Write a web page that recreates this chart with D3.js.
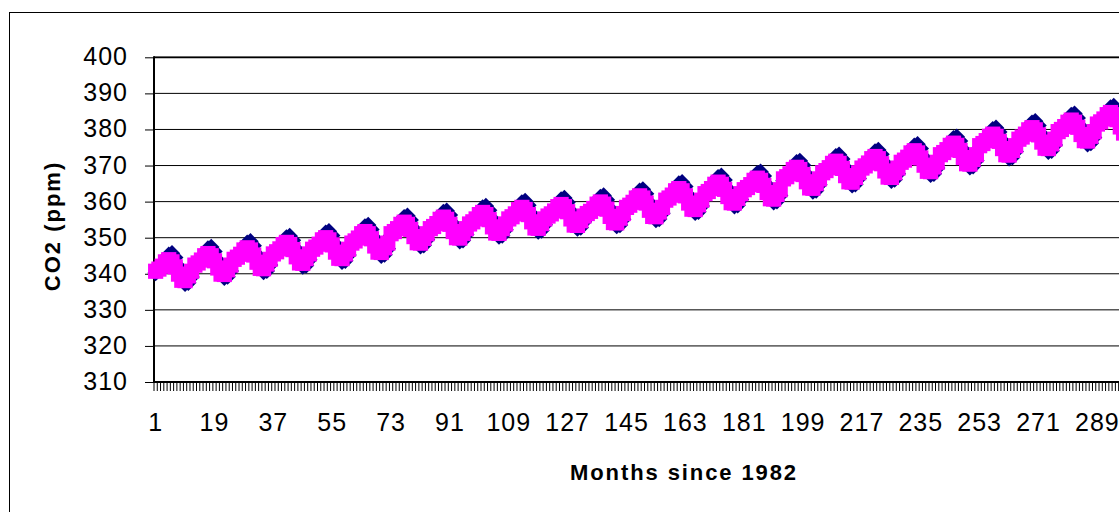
<!DOCTYPE html>
<html>
<head>
<meta charset="utf-8">
<script src="https://cdn.jsdelivr.net/npm/d3@7"></script>
<style>
  html, body { margin: 0; padding: 0; background: #fff; }
  svg { display: block; }
  text { font-family: "Liberation Sans", Arial, sans-serif; fill: #000; }
</style>
</head>
<body>
<svg id="chart" width="1119" height="512"></svg>
<script>
// y axis ticks (ppm)
const yTicks = [310, 320, 330, 340, 350, 360, 370, 380, 390, 400];
// category labels shown under the axis
const xLabelMonths = [1, 19, 37, 55, 73, 91, 109, 127, 145, 163, 181, 199, 217, 235, 253, 271, 289];
// months since 1982 (categories)
const months = d3.range(1, 301);

// dark blue series, one row per year (Jan..Dec)
const navySeries = [
  340.2, 341.0, 342.1, 343.7, 345.3, 345.7, 344.5, 342.0, 338.9, 337.2, 337.5, 339.1,
  341.9, 342.7, 343.8, 345.4, 347.0, 347.4, 346.2, 343.7, 340.6, 338.9, 339.2, 340.8,
  343.5, 344.3, 345.4, 347.0, 348.6, 349.0, 347.8, 345.3, 342.2, 340.5, 340.8, 342.4,
  345.0, 345.8, 346.9, 348.5, 350.1, 350.5, 349.3, 346.8, 343.7, 342.0, 342.3, 343.9,
  346.3, 347.1, 348.2, 349.8, 351.4, 351.8, 350.6, 348.1, 345.0, 343.3, 343.6, 345.2,
  348.0, 348.8, 349.9, 351.5, 353.1, 353.5, 352.3, 349.8, 346.7, 345.0, 345.3, 346.9,
  350.6, 351.4, 352.5, 354.1, 355.7, 356.1, 354.9, 352.4, 349.3, 347.6, 347.9, 349.5,
  352.0, 352.8, 353.9, 355.5, 357.1, 357.5, 356.3, 353.8, 350.7, 349.0, 349.3, 350.9,
  353.3, 354.1, 355.2, 356.8, 358.4, 358.8, 357.6, 355.1, 352.0, 350.3, 350.6, 352.2,
  354.7, 355.5, 356.6, 358.2, 359.8, 360.2, 359.0, 356.5, 353.4, 351.7, 352.0, 353.6,
  355.5, 356.3, 357.4, 359.0, 360.6, 361.0, 359.8, 357.3, 354.2, 352.5, 352.8, 354.4,
  356.2, 357.0, 358.1, 359.7, 361.3, 361.7, 360.5, 358.0, 354.9, 353.2, 353.5, 355.1,
  357.9, 358.7, 359.8, 361.4, 363.0, 363.4, 362.2, 359.7, 356.6, 354.9, 355.2, 356.8,
  359.9, 360.7, 361.8, 363.4, 365.0, 365.4, 364.2, 361.7, 358.6, 356.9, 357.2, 358.8,
  361.7, 362.5, 363.6, 365.2, 366.8, 367.2, 366.0, 363.5, 360.4, 358.7, 359.0, 360.6,
  362.8, 363.6, 364.7, 366.3, 367.9, 368.3, 367.1, 364.6, 361.5, 359.8, 360.1, 361.7,
  365.8, 366.6, 367.7, 369.3, 370.9, 371.3, 370.1, 367.6, 364.5, 362.8, 363.1, 364.7,
  367.5, 368.3, 369.4, 371.0, 372.6, 373.0, 371.8, 369.3, 366.2, 364.5, 364.8, 366.4,
  368.8, 369.6, 370.7, 372.3, 373.9, 374.3, 373.1, 370.6, 367.5, 365.8, 366.1, 367.7,
  370.4, 371.2, 372.3, 373.9, 375.5, 375.9, 374.7, 372.2, 369.1, 367.4, 367.7, 369.3,
  372.5, 373.3, 374.4, 376.0, 377.6, 378.0, 376.8, 374.3, 371.2, 369.5, 369.8, 371.4,
  375.0, 375.8, 376.9, 378.5, 380.1, 380.5, 379.3, 376.8, 373.7, 372.0, 372.3, 373.9,
  376.8, 377.6, 378.7, 380.3, 381.9, 382.3, 381.1, 378.6, 375.5, 373.8, 374.1, 375.7,
  378.9, 379.7, 380.8, 382.4, 384.0, 384.4, 383.2, 380.7, 377.6, 375.9, 376.2, 377.8,
  381.0, 381.8, 382.9, 384.5, 386.1, 386.5, 385.3, 382.8, 379.7, 378.0, 378.3, 379.9
];

// magenta series, one row per year (Jan..Dec)
const magentaSeries = [
  340.7, 341.3, 342.1, 343.3, 343.9, 343.3, 341.9, 339.9, 338.2, 338.1, 339.4, 340.7,
  342.4, 343.0, 343.8, 345.0, 345.6, 345.0, 343.6, 341.6, 339.9, 339.8, 341.1, 342.4,
  344.0, 344.6, 345.4, 346.6, 347.2, 346.6, 345.2, 343.2, 341.5, 341.4, 342.7, 344.0,
  345.5, 346.1, 346.9, 348.1, 348.7, 348.1, 346.7, 344.7, 343.0, 342.9, 344.2, 345.5,
  346.8, 347.4, 348.2, 349.4, 350.0, 349.4, 348.0, 346.0, 344.3, 344.2, 345.5, 346.8,
  348.5, 349.1, 349.9, 351.1, 351.7, 351.1, 349.7, 347.7, 346.0, 345.9, 347.2, 348.5,
  351.1, 351.7, 352.5, 353.7, 354.3, 353.7, 352.3, 350.3, 348.6, 348.5, 349.8, 351.1,
  352.5, 353.1, 353.9, 355.1, 355.7, 355.1, 353.7, 351.7, 350.0, 349.9, 351.2, 352.5,
  353.8, 354.4, 355.2, 356.4, 357.0, 356.4, 355.0, 353.0, 351.3, 351.2, 352.5, 353.8,
  355.2, 355.8, 356.6, 357.8, 358.4, 357.8, 356.4, 354.4, 352.7, 352.6, 353.9, 355.2,
  356.0, 356.6, 357.4, 358.6, 359.2, 358.6, 357.2, 355.2, 353.5, 353.4, 354.7, 356.0,
  356.7, 357.3, 358.1, 359.3, 359.9, 359.3, 357.9, 355.9, 354.2, 354.1, 355.4, 356.7,
  358.4, 359.0, 359.8, 361.0, 361.6, 361.0, 359.6, 357.6, 355.9, 355.8, 357.1, 358.4,
  360.4, 361.0, 361.8, 363.0, 363.6, 363.0, 361.6, 359.6, 357.9, 357.8, 359.1, 360.4,
  362.2, 362.8, 363.6, 364.8, 365.4, 364.8, 363.4, 361.4, 359.7, 359.6, 360.9, 362.2,
  363.3, 363.9, 364.7, 365.9, 366.5, 365.9, 364.5, 362.5, 360.8, 360.7, 362.0, 363.3,
  366.3, 366.9, 367.7, 368.9, 369.5, 368.9, 367.5, 365.5, 363.8, 363.7, 365.0, 366.3,
  368.0, 368.6, 369.4, 370.6, 371.2, 370.6, 369.2, 367.2, 365.5, 365.4, 366.7, 368.0,
  369.3, 369.9, 370.7, 371.9, 372.5, 371.9, 370.5, 368.5, 366.8, 366.7, 368.0, 369.3,
  370.9, 371.5, 372.3, 373.5, 374.1, 373.5, 372.1, 370.1, 368.4, 368.3, 369.6, 370.9,
  373.0, 373.6, 374.4, 375.6, 376.2, 375.6, 374.2, 372.2, 370.5, 370.4, 371.7, 373.0,
  375.5, 376.1, 376.9, 378.1, 378.7, 378.1, 376.7, 374.7, 373.0, 372.9, 374.2, 375.5,
  377.3, 377.9, 378.7, 379.9, 380.5, 379.9, 378.5, 376.5, 374.8, 374.7, 376.0, 377.3,
  379.4, 380.0, 380.8, 382.0, 382.6, 382.0, 380.6, 378.6, 376.9, 376.8, 378.1, 379.4,
  381.5, 382.1, 382.9, 384.1, 384.7, 384.1, 382.7, 380.7, 379.0, 378.9, 380.2, 381.5
];

const svg = d3.select('#chart');

// plot area geometry
const plot = { left: 154, top: 57.3, bottom: 382, catWidth: 3.27 };
plot.right = plot.left + months.length * plot.catWidth;

const x = d3.scaleBand().domain(months).range([plot.left, plot.right]).padding(0);
const y = d3.scaleLinear().domain([310, 400]).range([plot.bottom, plot.top]);
const cx = m => x(m) + x.bandwidth() / 2;

// outer chart border (runs off the right and bottom of the picture)
svg.append('rect')
  .attr('x', 9.5).attr('y', 12.5)
  .attr('width', 1300).attr('height', 600)
  .attr('fill', '#fff')
  .attr('stroke', '#000')
  .attr('stroke-width', 1);

// horizontal gridlines
svg.append('g')
  .selectAll('line')
  .data(yTicks)
  .join('line')
  .attr('x1', plot.left).attr('x2', plot.right)
  .attr('y1', d => y(d)).attr('y2', d => y(d))
  .attr('stroke', '#000')
  .attr('stroke-width', 1);

// top edge of the plot area
svg.append('line')
  .attr('x1', plot.left).attr('x2', plot.right)
  .attr('y1', plot.top).attr('y2', plot.top)
  .attr('stroke', '#000')
  .attr('stroke-width', 1.8);

// y axis: ticks and labels
const yAxis = svg.append('g')
  .attr('transform', `translate(${plot.left},0)`)
  .call(d3.axisLeft(y).tickValues(yTicks).tickSize(9).tickPadding(17).tickFormat(d3.format('d')));
yAxis.select('.domain').remove();
yAxis.selectAll('.tick line').attr('stroke', '#000');
yAxis.selectAll('.tick text')
  .attr('font-size', 25)
  .attr('letter-spacing', 1)
  .attr('dy', '0.3em')
  .style('font-family', '"Liberation Sans", Arial, sans-serif');

// x axis: a minor tick at every category boundary
const xTicks = svg.append('g')
  .attr('transform', `translate(0,${plot.bottom})`)
  .call(d3.axisBottom(x).tickValues(months).tickSize(9).tickFormat(''));
xTicks.select('.domain').remove();
xTicks.selectAll('.tick').attr('transform', d => `translate(${x(d)},0)`);
xTicks.selectAll('.tick line').attr('stroke', '#000');

// x axis labels every 18 months
const xLabels = svg.append('g')
  .attr('transform', `translate(0,${plot.bottom})`)
  .call(d3.axisBottom(x).tickValues(xLabelMonths).tickSize(0).tickPadding(31));
xLabels.select('.domain').remove();
xLabels.selectAll('.tick text')
  .attr('font-size', 25)
  .attr('letter-spacing', 1)
  .style('font-family', '"Liberation Sans", Arial, sans-serif');

// axis lines
svg.append('line')
  .attr('x1', plot.left).attr('x2', plot.left)
  .attr('y1', plot.top - 1).attr('y2', plot.bottom + 1)
  .attr('stroke', '#000').attr('stroke-width', 2);
svg.append('line')
  .attr('x1', plot.left).attr('x2', plot.right)
  .attr('y1', plot.bottom).attr('y2', plot.bottom)
  .attr('stroke', '#000').attr('stroke-width', 2);

// axis titles
svg.append('text')
  .attr('transform', 'translate(59.5,226) rotate(-90)')
  .attr('text-anchor', 'middle')
  .attr('font-size', 22)
  .attr('font-weight', 'bold')
  .attr('letter-spacing', 2)
  .text('CO2 (ppm)');

svg.append('text')
  .attr('x', 684).attr('y', 480)
  .attr('text-anchor', 'middle')
  .attr('font-size', 22)
  .attr('font-weight', 'bold')
  .attr('letter-spacing', 1.9)
  .text('Months since 1982');

// series
const line = d3.line().x((d, i) => cx(months[i])).y(d => y(d));

function drawSeries(values, color, markerPath) {
  const g = svg.append('g');
  g.append('path')
    .datum(values)
    .attr('d', line)
    .attr('fill', 'none')
    .attr('stroke', color)
    .attr('stroke-width', 2);
  g.selectAll('path.marker')
    .data(values)
    .join('path')
    .attr('class', 'marker')
    .attr('transform', (d, i) => `translate(${cx(months[i])},${y(d)})`)
    .attr('d', markerPath)
    .attr('fill', color);
}

const dh = 8.2;
const diamond = `M0,${-dh}L${dh},0L0,${dh}L${-dh},0Z`;
const sq = 7.6;
const square = `M${-sq},${-sq}H${sq}V${sq}H${-sq}Z`;

drawSeries(navySeries, '#000080', diamond);
drawSeries(magentaSeries, '#FF00FF', square);
</script>
</body>
</html>
